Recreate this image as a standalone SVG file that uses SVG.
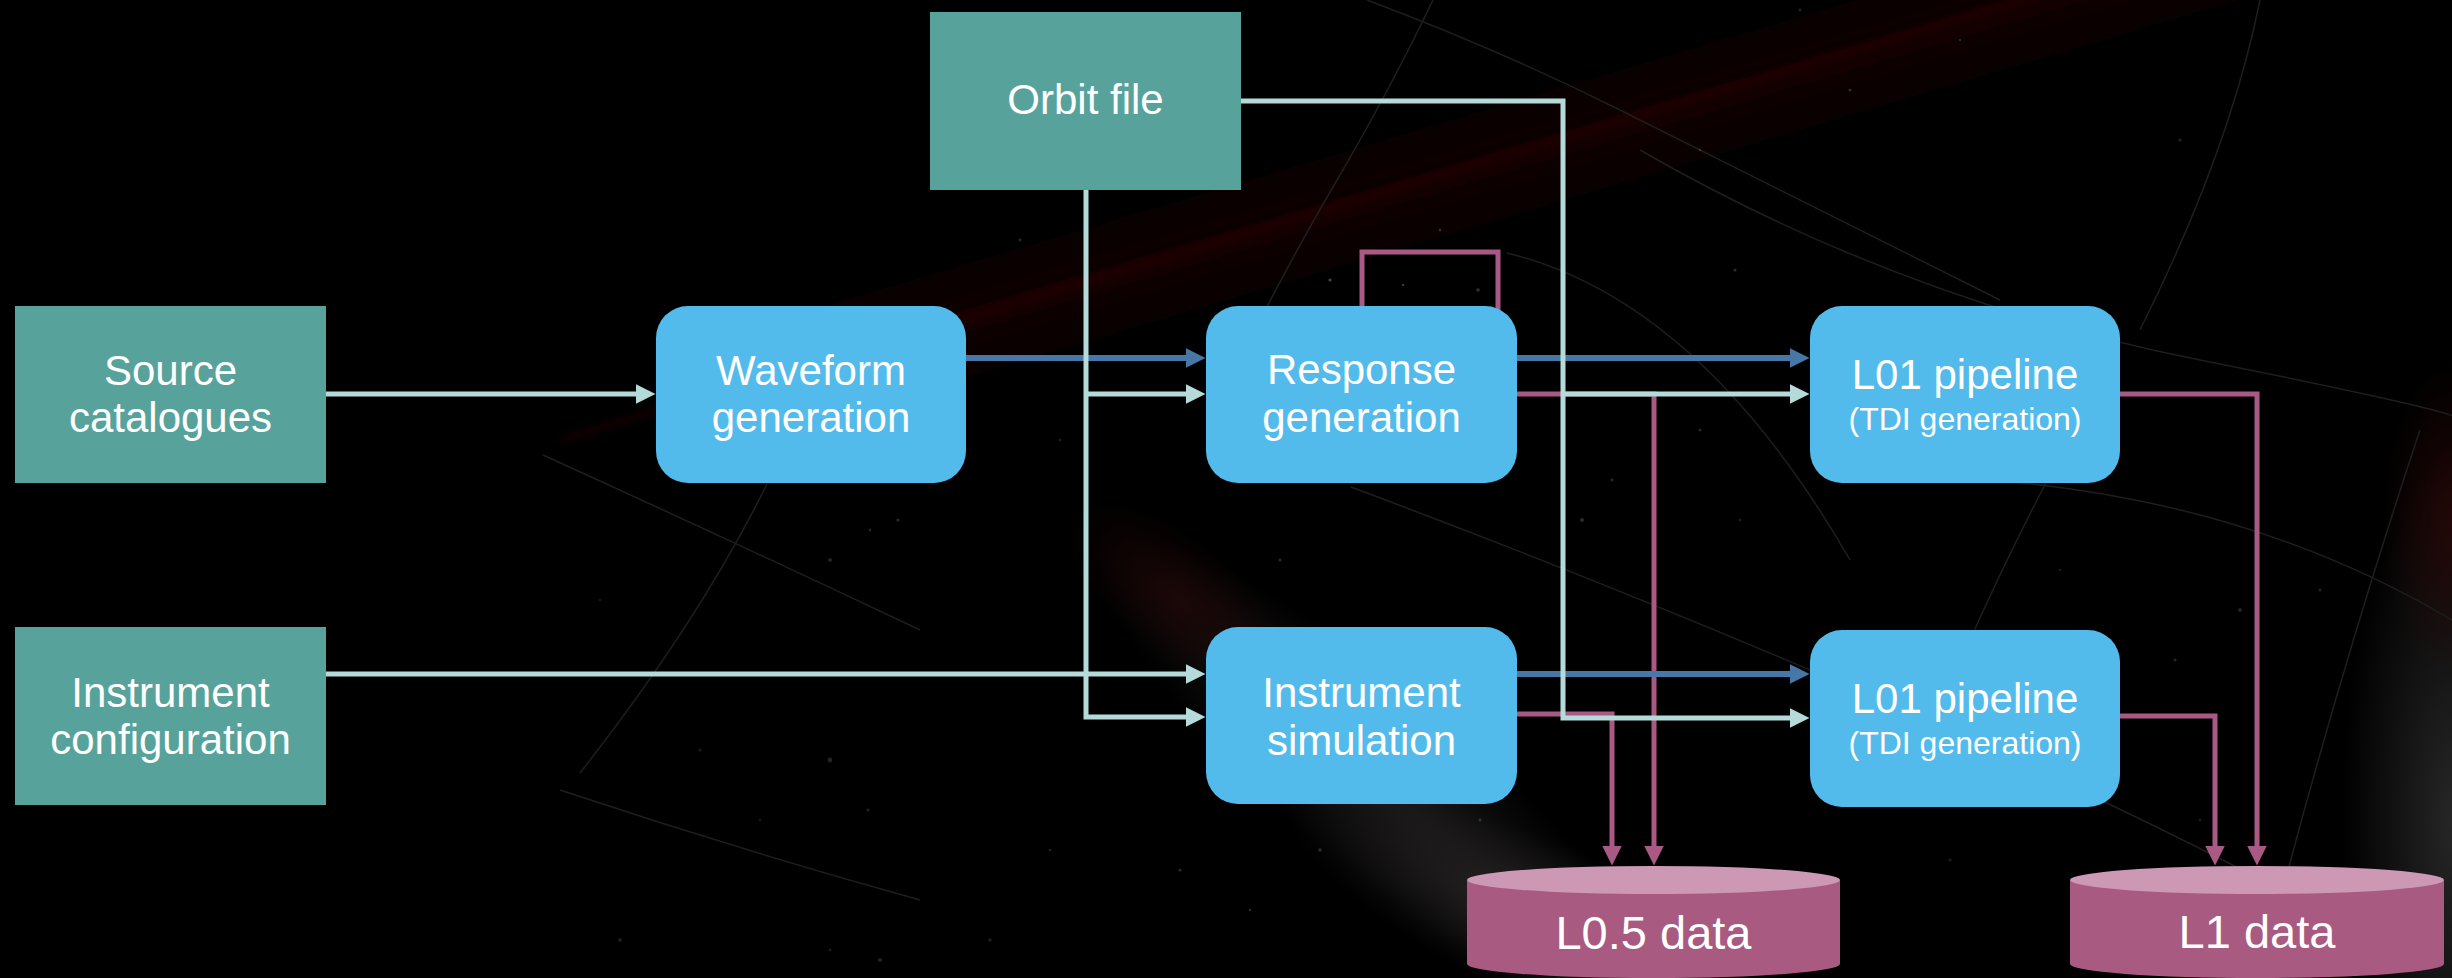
<svg xmlns="http://www.w3.org/2000/svg" width="2452" height="978" viewBox="0 0 2452 978">
  <defs>
    <style>
      .label{font-family:"Liberation Sans",Arial,Helvetica,sans-serif;fill:#ffffff;text-anchor:middle}
      .big{font-size:42px}
      .small{font-size:32px}
      .db{font-size:47px}
      .input{fill:#57A39C}
      .proc{fill:#53BBEB}
      .cyl-body{fill:#A85A80}
      .cyl-top{fill:#CC98B4}
      .wire{fill:none;stroke-width:5;stroke-linejoin:miter;stroke-linecap:butt}
      .teal{stroke:#B4DAD9;marker-end:url(#ah-teal)}
      .blue{stroke:#4677A6;stroke-width:6;marker-end:url(#ah-blue)}
      .mag{stroke:#A85A84;marker-end:url(#ah-mag)}
      .orbitline{fill:none;stroke:#1e1e1e;stroke-width:1.5}
      .star{fill:#8a8a8a}
    </style>
    <marker id="ah-teal" viewBox="0 0 20 20" refX="0.5" refY="10" markerWidth="20" markerHeight="20" markerUnits="userSpaceOnUse" orient="auto">
      <path d="M0,0 L20,10 L0,20 Z" fill="#B4DAD9"/>
    </marker>
    <marker id="ah-blue" viewBox="0 0 20 20" refX="0.5" refY="10" markerWidth="20" markerHeight="20" markerUnits="userSpaceOnUse" orient="auto">
      <path d="M0,0 L20,10 L0,20 Z" fill="#4677A6"/>
    </marker>
    <marker id="ah-mag" viewBox="0 0 20 20" refX="0.5" refY="10" markerWidth="20" markerHeight="20" markerUnits="userSpaceOnUse" orient="auto">
      <path d="M0,0 L20,10 L0,20 Z" fill="#A85A84"/>
    </marker>
    <filter id="soft" x="-50%" y="-50%" width="200%" height="200%"><feGaussianBlur stdDeviation="30"/></filter>
    <filter id="thin" x="-20%" y="-50%" width="140%" height="200%"><feGaussianBlur stdDeviation="4"/></filter>
    <radialGradient id="edge-glow" cx="0.5" cy="0.5" r="0.5">
      <stop offset="0" stop-color="#2a2a2a" stop-opacity="1"/>
      <stop offset="1" stop-color="#2a2a2a" stop-opacity="0"/>
    </radialGradient>
    <radialGradient id="edge-red" cx="0.5" cy="0.5" r="0.5">
      <stop offset="0" stop-color="#2a0808" stop-opacity="1"/>
      <stop offset="1" stop-color="#2a0808" stop-opacity="0"/>
    </radialGradient>
    <radialGradient id="haze" cx="0.5" cy="0.5" r="0.5">
      <stop offset="0" stop-color="#2c2929" stop-opacity="1"/>
      <stop offset="1" stop-color="#2c2929" stop-opacity="0"/>
    </radialGradient>
  </defs>

  <!-- space backdrop -->
  <g id="backdrop">
    <rect x="0" y="0" width="2452" height="978" fill="#000"/>
    <!-- red light streak -->
    <path d="M800,370 L2452,-120" stroke="#140304" stroke-width="70" fill="none" filter="url(#soft)"/>
    <path d="M560,440 L2452,-130" stroke="#3a0c10" stroke-width="4" fill="none" filter="url(#thin)" opacity="0.6"/>
    <!-- grey haze sweeping down to the right -->
    <ellipse cx="1380" cy="780" rx="360" ry="90" transform="rotate(40 1380 780)" fill="url(#haze)" opacity="0.6"/>
    <ellipse cx="1560" cy="930" rx="300" ry="80" transform="rotate(25 1560 930)" fill="url(#haze)" opacity="0.8"/>
    <ellipse cx="1180" cy="600" rx="140" ry="60" transform="rotate(40 1180 600)" fill="url(#edge-red)" opacity="0.6"/>
    <ellipse cx="2452" cy="820" rx="110" ry="360" fill="url(#edge-glow)" opacity="0.9"/>
    <ellipse cx="2452" cy="520" rx="70" ry="160" fill="url(#edge-red)" opacity="0.8"/>
    <!-- faint orbit tracks -->
    <path class="orbitline" d="M1367,0 Q1500,50 1620,110 T2000,300"/>
    <path class="orbitline" d="M1433,0 Q1390,90 1333,187 T1210,420"/>
    <path class="orbitline" d="M1351,487 Q1600,580 1850,687 T2300,900"/>
    <path class="orbitline" d="M1507,253 Q1700,300 1850,560"/>
    <path class="orbitline" d="M1990,480 Q2250,500 2452,620"/>
    <path class="orbitline" d="M2063,450 Q2010,550 1970,640"/>
    <path class="orbitline" d="M2420,430 Q2330,700 2260,978"/>
    <path class="orbitline" d="M767,484 Q700,620 580,773"/>
    <path class="orbitline" d="M543,455 Q730,540 920,630"/>
    <path class="orbitline" d="M560,790 Q740,850 920,900"/>
    <path class="orbitline" d="M1640,150 Q1900,300 2200,360 T2452,420"/>
    <path class="orbitline" d="M2260,0 Q2230,150 2140,330"/>
    <!-- stars -->
    <g class="star">
      <circle cx="1330" cy="280" r="1.6" opacity="0.5"/>
      <circle cx="1403" cy="285" r="1.3" opacity="0.4"/>
      <circle cx="1478" cy="290" r="1.8" opacity="0.35"/>
      <circle cx="1440" cy="230" r="1.2" opacity="0.4"/>
      <circle cx="1582" cy="520" r="2" opacity="0.3"/>
      <circle cx="1612" cy="480" r="1.4" opacity="0.3"/>
      <circle cx="1700" cy="430" r="1.5" opacity="0.3"/>
      <circle cx="1740" cy="520" r="1.2" opacity="0.25"/>
      <circle cx="1735" cy="270" r="1.6" opacity="0.3"/>
      <circle cx="1700" cy="150" r="1.3" opacity="0.3"/>
      <circle cx="1850" cy="90" r="1.5" opacity="0.3"/>
      <circle cx="1960" cy="40" r="1.2" opacity="0.3"/>
      <circle cx="2180" cy="140" r="1.6" opacity="0.25"/>
      <circle cx="2240" cy="610" r="2" opacity="0.25"/>
      <circle cx="2175" cy="660" r="1.6" opacity="0.25"/>
      <circle cx="2320" cy="590" r="1.5" opacity="0.25"/>
      <circle cx="2060" cy="570" r="1.3" opacity="0.2"/>
      <circle cx="830" cy="560" r="2" opacity="0.25"/>
      <circle cx="870" cy="530" r="1.4" opacity="0.25"/>
      <circle cx="898" cy="520" r="1.6" opacity="0.3"/>
      <circle cx="830" cy="760" r="2.4" opacity="0.25"/>
      <circle cx="868" cy="810" r="1.5" opacity="0.25"/>
      <circle cx="700" cy="750" r="1.5" opacity="0.2"/>
      <circle cx="760" cy="820" r="1.2" opacity="0.2"/>
      <circle cx="880" cy="960" r="2" opacity="0.25"/>
      <circle cx="830" cy="950" r="1.4" opacity="0.2"/>
      <circle cx="620" cy="940" r="2" opacity="0.2"/>
      <circle cx="1180" cy="870" r="1.6" opacity="0.3"/>
      <circle cx="1250" cy="910" r="1.3" opacity="0.3"/>
      <circle cx="1320" cy="850" r="1.8" opacity="0.3"/>
      <circle cx="1050" cy="850" r="1.3" opacity="0.25"/>
      <circle cx="990" cy="940" r="1.6" opacity="0.25"/>
      <circle cx="1480" cy="820" r="1.4" opacity="0.3"/>
      <circle cx="2200" cy="820" r="1.4" opacity="0.2"/>
      <circle cx="1950" cy="860" r="1.6" opacity="0.2"/>
      <circle cx="600" cy="600" r="1.3" opacity="0.2"/>
      <circle cx="1020" cy="240" r="1.4" opacity="0.3"/>
      <circle cx="1060" cy="440" r="1.2" opacity="0.25"/>
      <circle cx="1280" cy="560" r="1.6" opacity="0.3"/>
      <circle cx="1800" cy="10" r="1.4" opacity="0.25"/>
    </g>
  </g>

  <!-- connectors -->
  <g id="connectors">
    <!-- outputs into the data stores -->
    <path class="wire mag" d="M1362,306 V252 H1498 V394 H1654 V846"/>
    <path class="wire mag" d="M1517,714 H1612 V846"/>
    <path class="wire mag" d="M2120,394 H2257 V846"/>
    <path class="wire mag" d="M2120,716 H2215 V846"/>
    <!-- signal flow -->
    <path class="wire blue" d="M966,358 H1186"/>
    <path class="wire blue" d="M1517,358 H1790"/>
    <path class="wire blue" d="M1517,674 H1790"/>
    <!-- configuration / orbit inputs -->
    <path class="wire teal" d="M326,394 H636"/>
    <path class="wire teal" d="M326,674 H1186"/>
    <path class="wire teal" d="M1086,190 V717 H1186"/>
    <path class="wire teal" d="M1086,394 H1186"/>
    <path class="wire teal" d="M1241,101 H1563 V718 H1790"/>
    <path class="wire teal" d="M1563,394 H1790"/>
  </g>

  <g id="orbit-file">
    <rect class="input" x="930" y="12" width="311" height="178"/>
    <text class="label big" x="1085.5" y="114">Orbit file</text>
  </g>

  <g id="source-catalogues">
    <rect class="input" x="15" y="306" width="311" height="177"/>
    <text class="label big" x="170.5" y="385">Source</text>
    <text class="label big" x="170.5" y="432">catalogues</text>
  </g>

  <g id="instrument-configuration">
    <rect class="input" x="15" y="627" width="311" height="178"/>
    <text class="label big" x="170.5" y="707">Instrument</text>
    <text class="label big" x="170.5" y="754">configuration</text>
  </g>

  <g id="waveform-generation">
    <rect class="proc" x="656" y="306" width="310" height="177" rx="32" ry="32"/>
    <text class="label big" x="811" y="385">Waveform</text>
    <text class="label big" x="811" y="432">generation</text>
  </g>

  <g id="response-generation">
    <rect class="proc" x="1206" y="306" width="311" height="177" rx="32" ry="32"/>
    <text class="label big" x="1361.5" y="384">Response</text>
    <text class="label big" x="1361.5" y="432">generation</text>
  </g>

  <g id="instrument-simulation">
    <rect class="proc" x="1206" y="627" width="311" height="177" rx="32" ry="32"/>
    <text class="label big" x="1361.5" y="707">Instrument</text>
    <text class="label big" x="1361.5" y="755">simulation</text>
  </g>

  <g id="l01-pipeline-1">
    <rect class="proc" x="1810" y="306" width="310" height="177" rx="32" ry="32"/>
    <text class="label big" x="1965" y="389">L01 pipeline</text>
    <text class="label small" x="1965" y="430">(TDI generation)</text>
  </g>

  <g id="l01-pipeline-2">
    <rect class="proc" x="1810" y="630" width="310" height="177" rx="32" ry="32"/>
    <text class="label big" x="1965" y="713">L01 pipeline</text>
    <text class="label small" x="1965" y="754">(TDI generation)</text>
  </g>

  <g id="l05-data">
    <path class="cyl-body" d="M1467,880 V964 A186.5,14 0 0 0 1840,964 V880 Z"/>
    <ellipse class="cyl-top" cx="1653.5" cy="880" rx="186.5" ry="14"/>
    <text class="label db" x="1653.5" y="949">L0.5 data</text>
  </g>

  <g id="l1-data">
    <path class="cyl-body" d="M2070,880 V964 A187,14 0 0 0 2444,964 V880 Z"/>
    <ellipse class="cyl-top" cx="2257" cy="880" rx="187" ry="14"/>
    <text class="label db" x="2257" y="948">L1 data</text>
  </g>
</svg>
